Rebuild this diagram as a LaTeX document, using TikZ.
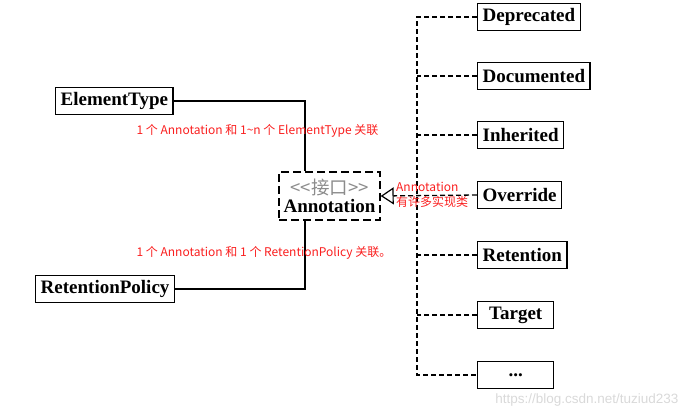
\documentclass[tikz,border=0pt]{standalone}
\usepackage{fontspec}
\setmainfont{Liberation Serif}
\newfontfamily\cjk{Noto Sans CJK SC}
\newfontfamily\wmfont{Liberation Sans}
\usepackage{tikz}
\usetikzlibrary{
	positioning,
	arrows.meta
}
\definecolor{notered}{RGB}{250,30,30}
\tikzset{
	cls/.style={draw, line width=1.4pt, font=\fontsize{19}{22}\selectfont\bfseries,
		inner xsep=5pt, inner ysep=0pt, minimum height=27pt, anchor=west},
	iface/.style={draw, dash pattern=on 8pt off 4pt, line width=1.4pt,
		minimum width=101pt, minimum height=48pt, align=center, inner sep=0pt},
	assoc/.style={line width=1.4pt},
	bus/.style={line width=1.3pt, dash pattern=on 5pt off 3pt},
	realize/.style={bus, -{Triangle[open, length=13pt, width=17pt, line width=1.2pt]}},
	note/.style={text=notered, font=\cjk\fontsize{12}{15}\selectfont}
}

\begin{document}
\begin{tikzpicture}[x=1pt,y=-1pt]
	\useasboundingbox (0,0) rectangle (689,418);

	% implementations on the right
	\draw
		node[cls]                    (dep)  at (477,17)  {Deprecated}
		node[cls]                    (doc)  at (477,76)  {Documented}
		node[cls]                    (inh)  at (477,135) {Inherited}
		node[cls]                    (ovr)  at (477,195) {Override}
		node[cls]                    (ret)  at (477,255) {Retention}
		node[cls, minimum width=76pt] (tgt)  at (477,315) {Target}
		node[cls, minimum width=76pt] (dots) at (477,375) {...}
	;
	\coordinate (bt) at (417,17);
	\coordinate (bb) at (417,375);
	\draw[bus] (dep.west) -- (bt) -- (bb) -- (dots.west);
	\foreach \n in {doc,inh,ret,tgt}
		\draw[bus] (\n.west) -- (\n.west -| bt);

	% the interface and its associations
	\node[iface] (annot) at (329.5,196)
		{{\cjk\fontsize{18.5}{20}\selectfont\color{gray!90}<{}<接口>{}>}\\[2pt]
		 {\fontsize{19}{20}\selectfont\bfseries Annotation}};
	\node[cls] (elem)   at (55,101) {ElementType};
	\node[cls] (retpol) at (35,289) {RetentionPolicy};

	\draw[assoc] (elem.east)   -| ([xshift=-24.5pt]annot.north);
	\draw[assoc] (retpol.east) -| ([xshift=-24.5pt]annot.south);
	\draw[realize] (ovr.west) -- (annot.east);

	% labels
	\node[note, anchor=west] (l1) at (133,131) {1 个 Annotation 和 1\textasciitilde n 个 ElementType 关联};
	\node[note, anchor=west] (l2) at (133,253) {1 个 Annotation 和 1 个 RetentionPolicy 关联。};
	\node[note, anchor=west, align=left, inner sep=0pt] (l3) at (396,195)
		{Annotation\\有许多实现类};

	\node[text=gray!30, font=\wmfont\fontsize{13.5}{16}\selectfont, anchor=east] (wm) at (682,400)
		{https://blog.csdn.net/tuziud233};
\end{tikzpicture}
\end{document}
